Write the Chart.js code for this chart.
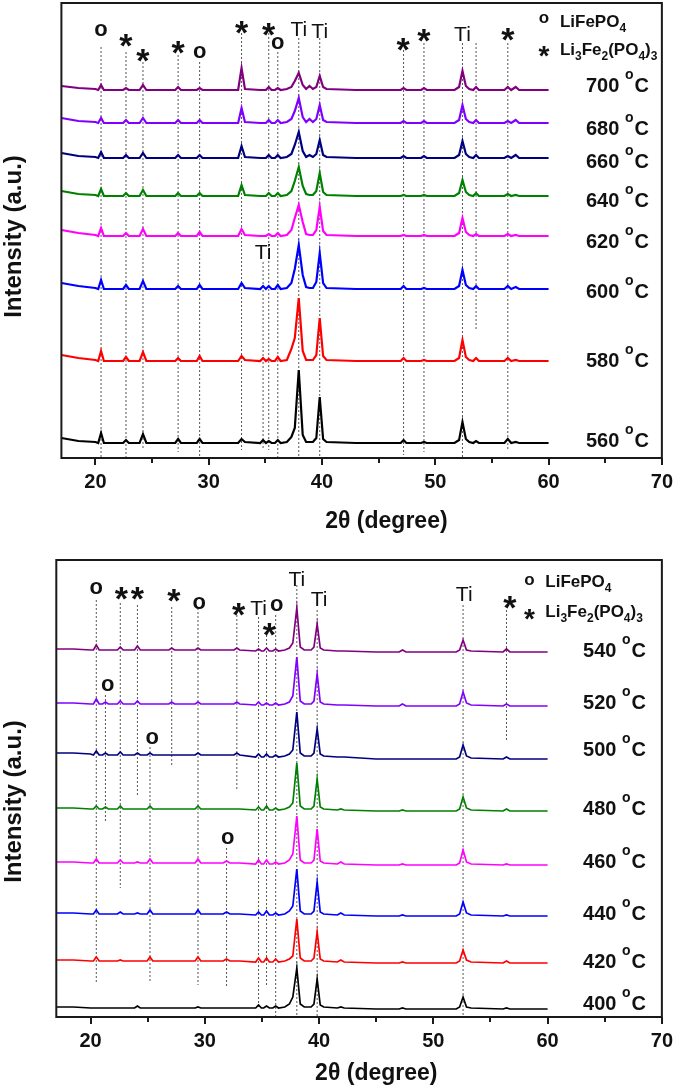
<!DOCTYPE html>
<html>
<head>
<meta charset="utf-8">
<script src="https://cdn.jsdelivr.net/npm/chart.js@4.4.1/dist/chart.umd.min.js"></script>
<style>
  body { margin: 0; background: #fff; }
  #wrap { position: relative; width: 685px; height: 1089px; }
  canvas { position: absolute; left: 0; }
</style>
</head>
<body>
<div id="wrap">
  <canvas id="high" width="685" height="545" style="top:0"></canvas>
  <canvas id="low" width="685" height="544" style="top:545px"></canvas>
</div>
<script>
// ---- upper panel: 560-700 °C ----
const twoThetaHigh = [17, 18.5, 20, 20.25, 20.5, 20.75, 21.5, 22.45, 22.7, 22.95,
  23.9, 24.2, 24.5, 26, 27.05, 27.3, 27.55, 28.95, 29.2, 29.45,
  31, 32.6, 32.9, 33.2, 34.55, 34.8, 35.05, 35.3, 35.55, 35.85,
  36.1, 36.35, 36.9, 37.3, 37.6, 37.95, 38.3, 38.6, 38.9, 39.2,
  39.5, 39.8, 40.1, 40.4, 43, 45, 46.95, 47.2, 47.45, 48.75,
  49, 49.25, 51.7, 52.1, 52.4, 52.7, 53.0, 53.35, 53.6, 53.85,
  55, 56.1, 56.4, 56.7, 57.1, 57.4, 60];
const tempsHigh = ['700', '680', '660', '640', '620', '600', '580', '560'];

const xrd700 = [372,370,369,368,373,368,368,368,370,368, 368,373,368,368,368,371,368,368,370,368,
  368,368,390,369,368,368,368,371,368,368, 370,368,369,371,377,385,373,369,372,369,
  371,382,371,369,368,368,368,370,368,368, 370,368,368,371,387,372,369,368,371,368, 368,368,371,368,371,368,368];
const xrd680 = [340,337,336,335,340,335,335,335,338,335, 335,340,335,335,335,338,335,335,338,335,
  335,335,350,336,335,335,335,338,335,335, 338,335,336,339,347,360,341,336,339,336,
  339,353,338,336,335,335,335,337,335,335, 337,335,335,338,353,339,336,335,338,335, 335,335,337,335,338,335,335];
const xrd660 = [305,302,301,300,306,300,300,300,303,300, 300,305,300,300,300,303,300,300,303,300,
  300,300,312,301,300,300,300,303,300,300, 303,300,301,304,313,326,307,301,303,301,
  304,318,303,301,300,300,300,302,300,300, 302,300,300,303,317,304,301,300,303,300, 300,300,302,300,303,300,300];
const xrd640 = [267,264,263,262,269,262,262,262,265,262, 262,268,262,262,262,265,262,262,265,262,
  262,262,273,263,262,262,262,265,262,262, 265,262,263,267,277,291,272,264,263,263,
  267,285,266,263,262,262,262,263,262,262, 263,262,262,265,278,266,263,262,265,262, 262,262,264,262,263,262,262];
const xrd620 = [228,225,223,222,230,222,222,222,225,222, 222,229,222,222,222,225,222,222,226,222,
  222,222,229,223,222,222,222,224,222,222, 225,222,223,228,240,253,236,224,223,223,
  228,251,227,223,222,222,222,223,222,222, 223,222,222,225,240,226,223,222,224,222, 222,222,224,222,223,222,222];
const xrd600 = [175,172,170,169,178,169,169,169,173,169, 169,177,169,169,169,172,169,169,173,169,
  169,169,175,170,169,172,169,172,169,169, 173,169,170,175,189,213,183,171,170,170,
  176,205,175,170,169,169,169,172,169,169, 170,169,169,172,188,173,170,169,172,169, 169,169,172,169,171,169,169];
const xrd580 = [103,100,98,97,107,97,97,97,101,97, 97,106,97,97,97,100,97,97,102,97,
  97,97,102,98,97,100,97,99,97,97, 101,97,98,109,120,160,107,98,98,98,
  103,140,102,98,97,97,97,100,97,97, 98,97,97,100,118,101,98,97,100,97, 97,97,100,97,98,97,97];
const xrd560 = [20,17,16,15,25,15,15,15,18,15, 15,24,15,15,15,19,15,15,19,15,
  15,15,19,16,15,18,15,17,15,15, 18,15,16,21,30,88,23,16,16,16,
  20,61,19,16,15,15,15,18,15,15, 16,15,15,18,36,19,16,15,17,15, 15,15,19,15,16,15,15];

// reflection positions (2θ) with the dotted guide extents (intensity units)
const refHighPos = [20.5, 22.7, 24.2, 27.3, 29.2, 32.9, 34.8, 35.3, 36.1, 37.95, 39.8, 47.2, 49.0, 52.4, 53.6, 56.4];
const refHighTop = [411, 406, 396, 403, 396, 425, 196, 425, 406, 420, 420, 408, 415, 415, 415, 415];
const refHighBottom = [0, 0, 8, 6, 0, 8, 8, 8, 0, 0, 0, 3, 6, 0, 129, 8];
const markHigh = ['o', '*', '*', '*', 'o', '*', 'Ti', '*', 'o', 'Ti', 'Ti', '*', '*', 'Ti', '*'];
const markHighPos = [20.5, 22.7, 24.2, 27.3, 29.2, 32.9, 34.8, 35.3, 36.1, 37.95, 39.8, 47.15, 49.0, 52.4, 56.4];

// ---- lower panel: 400-540 °C ----
const twoThetaLow = [17, 18.5, 20, 20.25, 20.5, 20.75, 21.05, 21.3, 21.55, 22.35,
  22.6, 22.85, 23.85, 24.1, 24.35, 24.95, 25.2, 25.45, 26.85, 27.1,
  27.35, 29.15, 29.4, 29.65, 31.6, 31.9, 32.2, 32.55, 32.8, 33.05,
  34.45, 34.7, 34.95, 35.15, 35.4, 35.65, 35.95, 36.2, 36.45, 37.0,
  37.4, 37.7, 38.05, 38.35, 38.7, 39.3, 39.55, 39.83, 40.1, 40.4,
  41.6, 41.9, 42.2, 45, 47.0, 47.3, 47.6, 50, 52.0, 52.3,
  52.6, 52.9, 53.3, 56.1, 56.4, 56.7, 60];
const tempsLow = ['540', '520', '500', '480', '460', '440', '420', '400'];

const xrd540 = [368,368,367,367,372,367,367,367,367,367, 370,367,367,371,367,367,367,367,367,369,
  367,367,369,367,367,367,367,367,369,367, 366,368,366,366,369,366,366,368,366,367,
  369,374,409,370,367,367,370,393,369,367, 366,366,366,365,365,367,365,365,365,367, 377,367,366,365,368,365,365];
const xrd520 = [314,314,313,313,318,313,313,315,313,313, 316,313,313,316,313,313,313,313,313,315,
  313,313,315,313,313,313,313,313,315,313, 312,315,312,312,314,312,312,314,312,313,
  315,321,360,316,313,313,316,343,315,313, 312,312,312,311,311,313,311,311,311,313, 325,314,312,311,313,311,311];
const xrd500 = [264,264,263,262,266,262,262,264,262,262, 265,262,262,264,262,262,264,262,262,262,
  262,262,264,262,262,262,262,262,264,262, 260,263,260,260,263,260,260,262,260,261,
  263,267,305,264,261,261,264,288,263,261, 260,260,260,258,258,258,258,258,258,260, 272,261,259,258,260,258,258];
const xrd480 = [209,209,208,208,211,208,208,210,208,208, 211,208,208,208,208,208,211,208,208,208,
  208,208,211,208,208,208,208,208,208,208, 207,210,207,207,211,207,207,209,207,208,
  210,214,254,211,208,208,211,238,210,208, 207,208,207,206,206,207,206,206,206,208, 220,209,207,206,208,206,206];
const xrd460 = [155,155,154,154,158,154,154,154,154,154, 157,154,154,155,154,154,158,154,154,154,
  154,154,158,154,154,156,154,154,154,154, 153,157,153,153,157,153,153,155,153,154,
  157,163,201,157,154,154,157,188,156,154, 153,155,153,152,152,153,152,152,152,154, 167,155,153,152,153,152,152];
const xrd440 = [104,104,103,103,107,103,103,103,103,103, 105,103,103,104,103,103,107,103,103,103,
  103,103,107,103,103,105,103,103,103,103, 102,105,102,102,106,102,102,104,102,103,
  106,111,148,106,103,103,106,135,105,103, 102,104,102,101,101,102,101,101,101,103, 115,104,102,101,102,101,101];
const xrd420 = [57,57,56,56,60,56,56,56,56,56, 57,56,56,56,56,56,60,56,56,56,
  56,56,60,56,56,58,56,56,56,56, 55,59,55,55,59,55,55,58,55,56,
  58,61,98,59,56,56,59,85,58,56, 55,57,55,54,54,55,54,54,54,56, 67,57,55,54,56,54,54];
const xrd400 = [10,10,9,9,9,9,9,9,9,9, 9,9,9,11,9,9,9,9,9,9,
  9,9,10,9,9,9,9,9,9,9, 9,12,9,9,11,9,9,11,9,10,
  13,20,49,13,10,10,13,38,12,10, 9,10,9,8,8,9,8,8,8,10, 20,10,9,8,9,8,8];

const refLowPos = [20.5, 21.3, 22.6, 24.1, 25.2, 27.1, 29.4, 31.9, 32.8, 34.7, 35.4, 36.2, 38.05, 39.83, 52.6, 56.4];
const refLowTop = [417, 322, 414, 412, 270, 410, 409, 169, 402, 400, 382, 402, 432, 407, 412, 407];
const refLowBottom = [34, 194, 129, 220, 35, 250, 32, 30, 227, 8, 32, 0, 0, 0, 0, 275];
const markLow = ['o', 'o', '*', '*', 'o', '*', 'o', 'o', '*', 'Ti', '*', 'o', 'Ti', 'Ti', 'Ti', '*'];
const markLowPos = [20.5, 21.5, 22.7, 24.1, 25.4, 27.3, 29.5, 32.0, 32.95, 34.7, 35.65, 36.3, 38.05, 40.0, 52.7, 56.7];

// ---- styling ----
const FONT = '"Liberation Sans", Arial, sans-serif';
const COLORS = ['#800080', '#8000ff', '#000080', '#008000', '#ff00ff', '#0000ff', '#ff0000', '#000000'];
const MARK_STYLE = {
  'o': { font: 'bold 22px ' + FONT, dy: 6 },
  '*': { font: 'bold 34px ' + FONT, dy: 19 },
  'Ti': { font: '21px ' + FONT, dy: 8 }
};

function drawRich(ctx, x, y, parts) {
  parts.forEach(([txt, size, dy]) => {
    ctx.font = 'bold ' + size + 'px ' + FONT;
    ctx.fillText(txt, x, y + dy);
    x += ctx.measureText(txt).width;
  });
}

function extras(p) {
  return {
    id: 'xrdExtras',
    afterDatasetsDraw(chart) {
      const { ctx, chartArea: a, scales } = chart;
      const sx = v => scales.x.getPixelForValue(v);
      const sy = v => scales.y.getPixelForValue(v);
      ctx.save();
      ctx.strokeStyle = '#1a1a1a';
      ctx.lineWidth = 2;
      ctx.strokeRect(a.left, a.top, a.right - a.left, a.bottom - a.top);
      ctx.beginPath();
      for (let v = 20; v <= 70; v += 5) {
        const px = Math.round(sx(v));
        ctx.moveTo(px, a.bottom);
        ctx.lineTo(px, a.bottom + (v % 10 === 0 ? 7 : 5));
      }
      ctx.stroke();

      ctx.fillStyle = '#111';
      ctx.textBaseline = 'alphabetic';

      // axis titles
      ctx.textAlign = 'center';
      ctx.font = 'bold 23px ' + FONT;
      ctx.fillText('2\u03b8 (degree)', a.left + p.xTitleDx, a.bottom + p.xTitleDy);
      ctx.save();
      ctx.translate(21, (a.top + a.bottom) / 2 + p.yTitleDy);
      ctx.rotate(-Math.PI / 2);
      ctx.font = 'bold 24px ' + FONT;
      ctx.fillText('Intensity (a.u.)', 0, 0);
      ctx.restore();

      // phase markers
      p.marks.forEach((m, i) => {
        const st = MARK_STYLE[m];
        ctx.font = st.font;
        ctx.fillText(m, sx(p.markPos[i]), sy(p.markY[i]) + st.dy);
      });

      // legend
      ctx.font = 'bold 17px ' + FONT;
      ctx.fillText('o', sx(p.legSymX), sy(p.legSymY[0]) + 4);
      ctx.font = 'bold 28px ' + FONT;
      ctx.fillText('*', sx(p.legSymX), sy(p.legSymY[1]) + 16);
      ctx.textAlign = 'left';
      drawRich(ctx, sx(p.legTextX), sy(p.legTextY[0]), [['LiFePO', 17, 0], ['4', 12, 5]]);
      drawRich(ctx, sx(p.legTextX), sy(p.legTextY[1]),
        [['Li', 17, 0], ['3', 12, 5], ['Fe', 17, 0], ['2', 12, 5], ['(PO', 17, 0], ['4', 12, 5], [')', 17, 0], ['3', 12, 5]]);

      // temperature labels
      p.temps.forEach((t, i) => {
        let x = sx(p.tempX);
        const y = sy(p.tempY[i]);
        ctx.font = 'bold 20px ' + FONT;
        ctx.fillText(t + ' ', x, y);
        x += ctx.measureText(t + ' ').width;
        ctx.font = 'bold 14px ' + FONT;
        ctx.fillText('o', x, y - 13);
        x += ctx.measureText('o').width + 1;
        ctx.font = 'bold 20px ' + FONT;
        ctx.fillText('C', x, y);
      });
      ctx.restore();
    }
  };
}

function makeChart(id, p) {
  const datasets = p.series.map((vals, i) => ({
    label: p.temps[i] + ' \u00b0C',
    data: p.theta.map((t, j) => ({ x: t, y: vals[j] })),
    borderColor: COLORS[i],
    borderWidth: p.lineW,
    pointRadius: 0,
    tension: 0,
    order: 0
  }));
  p.refPos.forEach((pos, i) => datasets.push({
    data: [{ x: pos, y: p.refTop[i] }, { x: pos, y: p.refBottom[i] }],
    borderColor: '#555',
    borderWidth: 1,
    borderDash: [2, 2],
    pointRadius: 0,
    order: 1
  }));

  return new Chart(document.getElementById(id), {
    type: 'line',
    data: { datasets },
    options: {
      responsive: false,
      animation: false,
      layout: { padding: p.pad },
      plugins: { legend: { display: false }, tooltip: { enabled: false } },
      scales: {
        x: {
          type: 'linear', min: 17, max: 70,
          afterFit: s => { s.height = p.axisH; },
          grid: { display: false, drawTicks: false },
          border: { display: false },
          ticks: {
            stepSize: 5, includeBounds: false, autoSkip: false, maxRotation: 0, padding: 12,
            color: '#111', font: { family: FONT, size: 20, weight: 'bold' },
            callback: v => (v % 10 === 0 ? v : '')
          }
        },
        y: { display: false, min: 0, max: p.yMax }
      }
    },
    plugins: [extras(p)]
  });
}

makeChart('high', {
  theta: twoThetaHigh,
  series: [xrd700, xrd680, xrd660, xrd640, xrd620, xrd600, xrd580, xrd560],
  temps: tempsHigh,
  refPos: refHighPos, refTop: refHighTop, refBottom: refHighBottom,
  marks: markHigh, markPos: markHighPos,
  markY: [428, 420, 405, 413, 406, 433, 207, 431, 415, 430, 428, 416, 425, 425, 426],
  tempX: 63.3, tempY: [366, 323, 290, 251, 210, 160, 91, 11],
  legSymX: 59.6, legSymY: [439, 409], legTextX: 61.0, legTextY: [431, 403],
  pad: { left: 61.4, right: 13, top: 3, bottom: 0 },
  axisH: 87, yMax: 455, lineW: 2.2,
  xTitleDx: 325, xTitleDy: 70, yTitleDy: 6
});

makeChart('low', {
  theta: twoThetaLow,
  series: [xrd540, xrd520, xrd500, xrd480, xrd460, xrd440, xrd420, xrd400],
  temps: tempsLow,
  refPos: refLowPos, refTop: refLowTop, refBottom: refLowBottom,
  marks: markLow, markPos: markLowPos,
  markY: [429, 332, 426, 426, 279, 424, 414, 179, 410, 410, 390, 412, 439, 419, 424, 417],
  tempX: 63.1, tempY: [360, 308, 261, 202, 149, 97, 49, 7],
  legSymX: 58.4, legSymY: [436, 405], legTextX: 59.8, legTextY: [430, 400],
  pad: { left: 56.3, right: 15, top: 15, bottom: 0 },
  axisH: 72, yMax: 457, lineW: 1.7,
  xTitleDx: 320, xTitleDy: 63, yTitleDy: 13
});
</script>
</body>
</html>
